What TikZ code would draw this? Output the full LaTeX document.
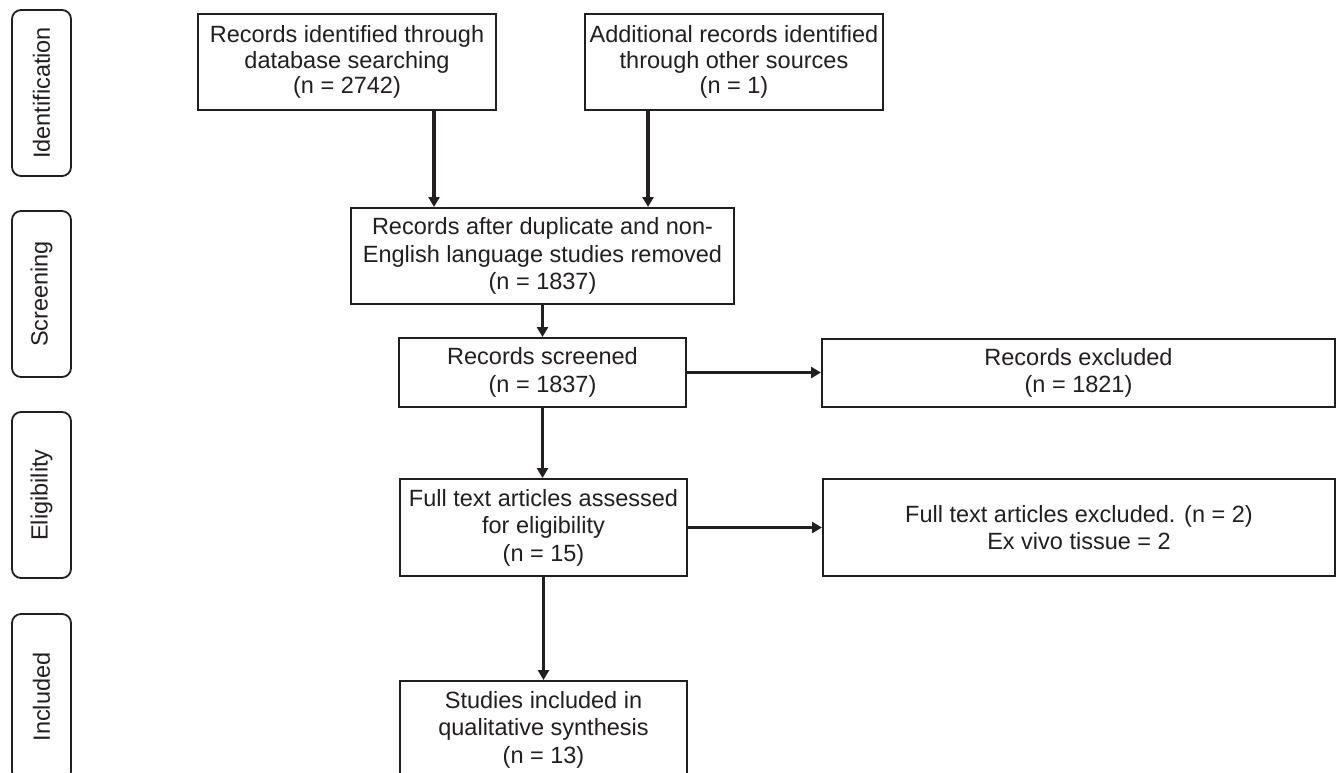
\documentclass[tikz,border=0pt]{standalone}
\usepackage{fontspec}
\setmainfont{Liberation Sans}
\usetikzlibrary{arrows.meta}
\definecolor{ink}{HTML}{231F20}
\begin{document}
\begin{tikzpicture}[x=1pt,y=-1pt,
  every node/.style={font=\fontsize{23.5}{27.5}\selectfont, text=ink},
  box/.style={draw=ink, line width=2pt, align=center, inner sep=0pt,
    execute at begin node={\rule{0pt}{23pt}}},
  topbox/.style={box, font=\fontsize{23.5}{25.5}\selectfont, minimum width=298pt, minimum height=96pt},
  phase/.style={draw=ink, line width=1.8pt, rounded corners=9pt, rotate=90, inner sep=0pt, minimum width=166pt, minimum height=59pt},
  arr/.style={draw=ink, line width=3.4pt, -{Triangle[length=10pt,width=11pt]}}]
\useasboundingbox (0,0) rectangle (1338,772);
\clip (0,0) rectangle (1338,772);
\fill[white] (0,0) rectangle (1338,772);
% phase labels
\node[phase] (pid) at (41.5,93) {Identification};
\node[phase] (psc) at (41.5,294) {Screening};
\node[phase] (pel) at (41.5,495) {Eligibility};
\node[phase] (pin) at (41.5,697) {Included};
% boxes
\node[topbox] (b1) at (347,62) {Records identified through\\database searching\\(n = 2742)};
\node[topbox] (b2) at (734,62) {Additional records identified\\through other sources\\(n = 1)};
\node[box, minimum width=383pt, minimum height=96pt] (b3) at (542.5,256) {Records after duplicate and non-\\English language studies removed\\(n = 1837)};
\node[box, minimum width=287pt, minimum height=69pt] (b4) at (542.5,372.5) {Records screened\\(n = 1837)};
\node[box, minimum width=513pt, minimum height=68pt] (b5) at (1078.5,373) {Records excluded\\(n = 1821)};
\node[box, minimum width=287pt, minimum height=97pt] (b6) at (543.5,527.5) {Full text articles assessed\\for eligibility\\(n = 15)};
\node[box, minimum width=512pt, minimum height=97pt] (b7) at (1079,527.5) {Full text articles excluded. (n = 2)\\Ex vivo tissue = 2};
\node[box, minimum width=287pt, minimum height=97pt] (b8) at (543.5,729.5) {Studies included in\\qualitative synthesis\\(n = 13)};
% connectors
\coordinate (xa) at (434,0);
\coordinate (xb) at (648,0);
\draw[arr] (b1.south -| xa) -- (b3.north -| xa);
\draw[arr] (b2.south -| xb) -- (b3.north -| xb);
\draw[arr] (b3.south) -- (b3.south |- b4.north);
\draw[arr] (b4.east) -- (b4.east -| b5.west);
\draw[arr] (b4.south) -- (b4.south |- b6.north);
\draw[arr] (b6.east) -- (b6.east -| b7.west);
\draw[arr] (b6.south) -- (b8.north);
\end{tikzpicture}
\end{document}
